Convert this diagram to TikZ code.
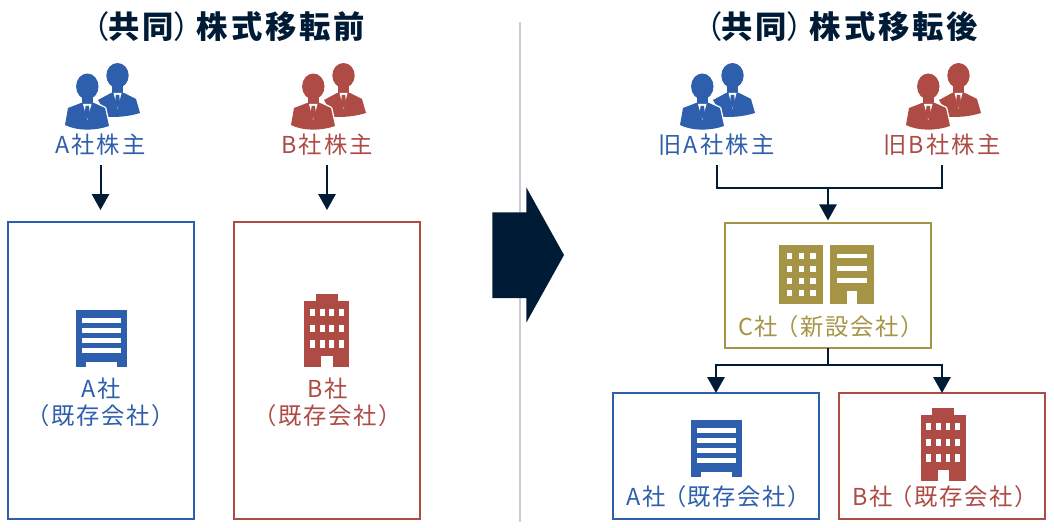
\documentclass[tikz,border=0pt]{standalone}
\usepackage{fontspec}
\setmainfont{Noto Sans CJK JP}
\newfontfamily\titlefont[LetterSpace=9]{Noto Sans CJK JP}
\newfontfamily\labelfont[LetterSpace=7]{Noto Sans CJK JP}
\newfontfamily\holderfont[LetterSpace=9]{Noto Sans CJK JP}
\usetikzlibrary{positioning,arrows.meta}
\definecolor{ablue}{HTML}{2E5FAC}
\definecolor{bred}{HTML}{AE4B45}
\definecolor{cgold}{HTML}{A59445}
\definecolor{navy}{HTML}{001B36}
\definecolor{rulegray}{HTML}{C8CDD2}
\tikzset{
	pics/people/.style={code={
		\fill[#1] (33,38) -- (46,31) -- (59,31) -- (71,37) -- (75,51) .. controls (62,55) and (52,55) .. (43,55) -- cycle;
		\fill[#1] (52.5,13.5) ellipse [x radius=11.2,y radius=12.5];
		\fill[#1] (47,20) rectangle (58,32);
		\fill[white] (48.5,31) -- (56.5,31) -- (52.5,47) -- cycle;
		\fill[#1] (50.8,33) -- (54.2,33) -- (55,41) -- (52.5,46) -- (50,41) -- cycle;
		\draw[white,line width=2pt,line join=round] (3,46) -- (15,41) -- (30,41) -- (40,46) -- (44,64) .. controls (30,69) and (12,69) .. (0,63) -- cycle;
		\draw[white,line width=2pt] (22.3,24.5) ellipse [x radius=11.2,y radius=13];
		\fill[#1] (3,46) -- (16,41) -- (29,41) -- (40,46) -- (44,64) .. controls (30,69) and (12,69) .. (0,63) -- cycle;
		\fill[#1] (22.3,24.5) ellipse [x radius=11.2,y radius=13];
		\fill[#1] (16.5,30) rectangle (28,42);
		\fill[white] (18,42) -- (26.5,42) -- (22.3,58) -- cycle;
		\fill[#1] (20.6,44) -- (24,44) -- (25,52) -- (22.3,57) -- (19.6,52) -- cycle;
	}},
	pics/slatblock/.style={code={
		\fill[ablue] (0,0) rectangle (50.7,57.4);
		\foreach \y in {8,18,27.7,37.7}
			\fill[white] (6,\y) rectangle (45.4,\y+5);
		\fill[white] (10.4,51.7) rectangle (40.7,57.6);
	}},
	pics/tower/.style={code={
		\fill[bred] (0,7) rectangle (45,73.4);
		\fill[bred] (11.7,0) rectangle (33.4,8);
		\foreach \x in {5.7,15.7,25,34.7}
			\foreach \y in {15,30.7,46.4}
				\fill[white] (\x,\y) rectangle (\x+4.7,\y+7.5);
		\fill[white] (17,61.7) rectangle (28.7,73.6);
	}},
	pics/twinblock/.style={code={
		\fill[cgold] (0,0) rectangle (44.4,59);
		\foreach \x in {7.7,19.7,31.4}
			\foreach \y in {8,20.7,33,45}
				\fill[white] (\x,\y) rectangle (\x+5.6,\y+6);
		\fill[cgold] (51,0) rectangle (95,59);
		\foreach \y in {8.7,21.4,33.4}
			\fill[white] (57.7,\y) rectangle (88.4,\y+4.7);
		\fill[white] (68.4,46.4) rectangle (77.7,59.2);
	}}
}
\begin{document}
\begin{tikzpicture}[x=0.75pt,y=-0.75pt,inner sep=0pt,outer sep=0pt]
	\tikzstyle{box}=[draw,line width=1.5pt,minimum width=139.5pt]
	\tikzstyle{title}=[text=navy,font=\titlefont\bfseries\fontsize{23.5}{23.5}\selectfont]
	\tikzstyle{label}=[font=\labelfont\fontsize{17.5}{20.25}\selectfont,align=center]
	\tikzstyle{holder}=[font=\holderfont\fontsize{17.5}{20.25}\selectfont,minimum height=30pt]
	\tikzstyle{conn}=[navy,line width=1.5pt]
	\tikzstyle{arr}=[conn,-{Triangle[width=13pt,length=12pt]}]
	\useasboundingbox (0,0) rectangle (1054,528);
		\draw[rulegray,line width=1.5pt] (520,22) -- (520,522);
		\fill[navy] (492.3,212.3) -- (526.3,212.3) -- (526.3,187.3) -- (564,255) -- (526.3,322.7) -- (526.3,298) -- (492.3,298) -- cycle;
		\node[title] (tleft) at (221.5,27) {{\mdseries（}\kern-1pt 共同{\mdseries）}\kern-6pt 株式移転前};
		\node[title] (tright) at (834.5,27) {{\mdseries（}\kern-1pt 共同{\mdseries）}\kern-6pt 株式移転後};
		\pic at (65,62) {people=ablue};
		\pic at (291,62) {people=bred};
		\pic at (680,62) {people=ablue};
		\pic at (906,62) {people=bred};
		\node[holder,text=ablue] (ah) at (100.5,145) {A社株主};
		\node[holder,text=bred] (bh) at (327,145) {B社株主};
		\node[holder,text=ablue] (oah) at (716.5,145) {旧A社株主};
		\node[holder,text=bred] (obh) at (942,145) {旧B社株主};
		\node[box,ablue,minimum height=222.75pt] (abox) at (101,370.5) {};
		\node[box,bred,minimum height=222.75pt,right=30pt of abox] (bbox) {};
		\node[box,cgold,minimum width=154.5pt,minimum height=93.75pt] (cbox) at (828,285.5) {};
		\node[box,ablue,minimum width=154.5pt,minimum height=94.5pt] (atwo) at (716,456) {};
		\node[box,bred,minimum width=154.5pt,minimum height=94.5pt,right=15pt of atwo] (btwo) {};
		\pic at (75.8,309.8) {slatblock};
		\pic at (304.3,293.8) {tower};
		\pic at (778.8,244.8) {twinblock};
		\pic at (691,419.8) {slatblock};
		\pic at (920.5,407.8) {tower};
		\node[label,text=ablue] (alab) at (101,402) {A社\\（既存会社）};
		\node[label,text=bred] (blab) at (328,402) {B社\\（既存会社）};
		\node[label,text=cgold] (clab) at (831,327) {C社\kern-2.2pt（新設会社）};
		\node[label,text=ablue] (atwolab) at (719,497) {A社\kern-2.2pt（既存会社）};
		\node[label,text=bred] (btwolab) at (945,497) {B社\kern-2.2pt（既存会社）};
		\coordinate (join) at (828,188);
		\coordinate (fork) at (828,365);
			\draw[arr,shorten >=9pt] (ah) -- (ah |- abox.north);
			\draw[arr,shorten >=9pt] (bh) -- (bh |- bbox.north);
			\draw[conn] (oah) |- (join) -| (obh);
			\draw[arr,shorten >=2pt] (join) -- (cbox.north);
			\draw[conn] (cbox.south) -- (fork);
			\draw[arr] (fork) -| (atwo.north);
			\draw[arr] (fork) -| (btwo.north);
\end{tikzpicture}
\end{document}
